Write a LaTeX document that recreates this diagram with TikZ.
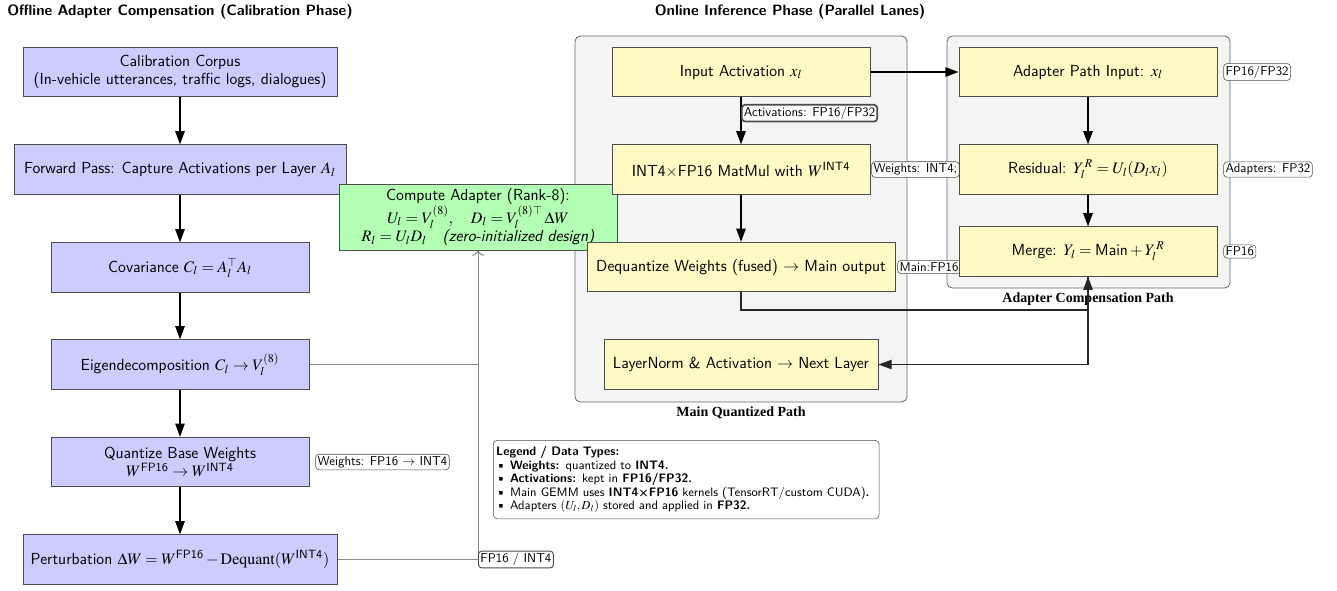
\documentclass[tikz,border=0pt]{standalone}
\usepackage{amsmath}
\usepackage{mathptmx}
\usepackage[no-math]{fontspec}
\newfontfamily\capfont{Liberation Serif}
\renewcommand{\familydefault}{\sfdefault}
\usetikzlibrary{arrows.meta,calc}

\definecolor{calfill}{RGB}{204,204,255}
\definecolor{grnfill}{RGB}{179,255,179}
\definecolor{inffill}{RGB}{255,249,196}
\definecolor{lanefill}{RGB}{244,244,244}

\pgfdeclarelayer{bg}
\pgfdeclarelayer{mid}
\pgfsetlayers{bg,mid,main}

\tikzset{
  blk/.style={draw=black!70, line width=0.6pt, minimum height=37pt, inner sep=3pt, align=center,
              font=\fontsize{12}{14}\selectfont},
  calib/.style={blk, fill=calfill},
  infer/.style={blk, fill=inffill},
  adapt/.style={blk, fill=grnfill},
  lane/.style={draw=black!60, fill=lanefill, rounded corners=4pt, line width=0.6pt},
  tag/.style={draw=black!70, fill=white, rounded corners=2.5pt, font=\fontsize{9.6}{11}\selectfont, inner sep=1.5pt},
  flow/.style={draw=black, line width=1.3pt, -{Triangle[length=10pt,width=7pt]}},
  feed/.style={draw=black!85, line width=1.1pt},
  link/.style={draw=black!45, line width=0.7pt},
  heading/.style={font=\fontsize{11.2}{13}\selectfont\sffamily\bfseries},
  lanecap/.style={font=\fontsize{10.5}{12}\selectfont\capfont\bfseries},
}

\begin{document}
\begin{tikzpicture}[x=0.75pt, y=-0.75pt]
\useasboundingbox (0,0) rectangle (1337,590);

% section headings
\node[heading] (offtitle) at (180,12) {Offline Adapter Compensation (Calibration Phase)};
\node[heading] (ontitle) at (790,12) {Online Inference Phase (Parallel Lanes)};

% calibration column
\node[calib, minimum width=235.5pt] (corpus) at (180,72) {Calibration Corpus\\(In-vehicle utterances, traffic logs, dialogues)};
\node[calib, minimum width=249pt] (fwd) at (180,169.5) {Forward Pass: Capture Activations per Layer $A_l$};
\node[calib, minimum width=193.5pt] (cov) at (180,267.5) {Covariance $C_l = A_l^{\top} A_l$};
\node[calib, minimum width=193.5pt] (eig) at (180,364.5) {Eigendecomposition $C_l \rightarrow V_l^{(8)}$};
\node[calib, minimum width=193.5pt] (quant) at (180,462) {Quantize Base Weights\\$W^{\text{FP16}} \rightarrow W^{\text{INT4}}$};
\node[calib, minimum width=235.5pt] (pert) at (180,559.5) {Perturbation $\Delta W = W^{\text{FP16}} - \mathrm{Dequant}(W^{\text{INT4}})$};

% adapter computation
\node[adapt, minimum width=208.5pt, minimum height=49.5pt, inner sep=2pt] (adapter) at (478,217)
  {Compute Adapter (Rank-8):\\
   $U_l = V_l^{(8)}, \quad D_l = V_l^{(8)\top}\,\Delta W$\\
   $R_l = U_l D_l$\quad\textit{(zero-initialized design)}};

% inference lanes: main path
\node[infer, minimum width=193.5pt] (input) at (741,72) {Input Activation $x_l$};
\node[infer, minimum width=193.5pt] (matmul) at (741,169.5) {INT4×FP16 MatMul with $W^{\text{INT4}}$};
\node[infer, minimum width=231pt] (dequant) at (741,267) {Dequantize Weights (fused) $\rightarrow$ Main output};
\node[infer, minimum width=205.5pt] (norm) at (741,364.5) {LayerNorm \& Activation $\rightarrow$ Next Layer};

% inference lanes: adapter path
\node[infer, minimum width=193.5pt] (ainput) at (1088,72) {Adapter Path Input: $x_l$};
\node[infer, minimum width=193.5pt] (resid) at (1088,169.5) {Residual: $Y_l^{\,R} = U_l(D_l x_l)$};
\node[infer, minimum width=193.5pt] (merge) at (1088,251.5) {Merge: $Y_l = \text{Main} + Y_l^{\,R}$};

% legend
\node[draw=black!70, rounded corners=3pt, fill=white, anchor=north west, font=\fontsize{9.2}{10.2}\selectfont,
      text width=285pt, minimum height=59pt, inner sep=2.2pt, align=left] (legend) at (493,440)
  {\textbf{Legend / Data Types:}\\
   \textbullet\ \textbf{Weights:} quantized to \textbf{INT4.}\\
   \textbullet\ \textbf{Activations:} kept in \textbf{FP16/FP32.}\\
   \textbullet\ Main GEMM uses \textbf{INT4×FP16} kernels (TensorRT/custom CUDA)\textbf{.}\\
   \textbullet\ Adapters $(U_l, D_l)$ stored and applied in \textbf{FP32.}};

% lane backgrounds and captions
\begin{pgfonlayer}{bg}
\node[lane, minimum width=249pt, minimum height=274.5pt] (mainlane) at (741,219) {};
\node[lane, minimum width=212.25pt, minimum height=189pt] (adlane) at (1088.5,162) {};
\node[lanecap] (maincap) at (741,413) {Main Quantized Path};
\node[lanecap] (adcap) at (1088,299) {Adapter Compensation Path};
\end{pgfonlayer}

\coordinate (bus) at (0,310);

\begin{pgfonlayer}{mid}
% calibration flow
\draw[flow] (corpus) -- (fwd);
\draw[flow] (fwd) -- (cov);
\draw[flow] (cov) -- (eig);
\draw[flow] (eig) -- (quant);
\draw[flow] (quant) -- (pert);
\node[tag, anchor=west] (wtag) at ([xshift=4.5pt]quant.east) {Weights: FP16 $\rightarrow$ INT4};

% inputs to the adapter computation
\draw[link, -{To[length=4pt]}] (eig.east) -| (adapter.south);
\draw[link, -{To[length=4pt]}] (pert.east) -| node[tag, pos=0.5, anchor=west] (mixtag) {FP16 / INT4} (adapter.south);

% main path flow
\draw[flow] (input) -- node[tag, pos=0.34, anchor=west] (acttag) {Activations: FP16/FP32} (matmul);
\draw[flow] (matmul) -- (dequant);
\draw[flow] (input) -- (ainput);
\node[tag, anchor=west] (mtag) at ([xshift=0.75pt]matmul.east) {Weights: INT4;};
\node[tag, anchor=west] (dtag) at ([xshift=1.5pt]dequant.east) {Main:FP16};

% adapter path flow
\draw[flow] (ainput) -- (resid);
\draw[flow] (resid) -- (merge);
\node[tag, anchor=west] (itag) at ([xshift=4.5pt]ainput.east) {FP16/FP32};
\node[tag, anchor=west] (rtag) at ([xshift=4.5pt]resid.east) {Adapters: FP32};
\node[tag, anchor=west] (gtag) at ([xshift=4.5pt]merge.east) {FP16};

% merging and hand-off
\draw[flow, feed] (dequant.south) -- (dequant.south |- bus) -| (merge.south);
\draw[flow, feed] (merge.south) |- (norm.east);
\end{pgfonlayer}
\end{tikzpicture}
\end{document}
